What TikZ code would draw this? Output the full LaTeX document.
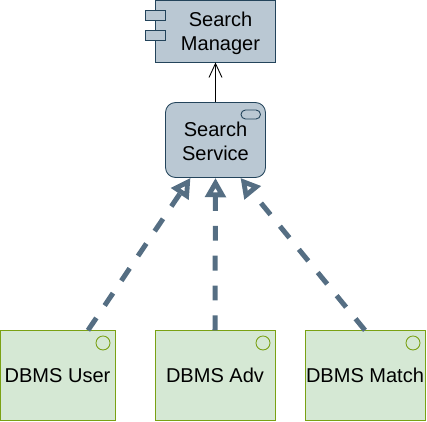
\documentclass[tikz,border=0pt]{standalone}
\usepackage{fontspec}
\setmainfont{Liberation Sans}
\usetikzlibrary{arrows.meta}
\definecolor{slatefill}{RGB}{186,200,211}
\definecolor{slateline}{RGB}{35,68,91}
\definecolor{dashline}{RGB}{85,110,131}
\definecolor{greenfill}{RGB}{213,232,212}
\definecolor{greenline}{RGB}{122,161,20}
\tikzset{
    every node/.style={font=\fontsize{11.4}{13.66}\selectfont, text=black, align=center, inner sep=0pt},
    slatebox/.style={draw=slateline, fill=slatefill, line width=.5pt},
    dbmsbox/.style={draw=greenline, fill=greenfill, line width=.5pt, minimum height=1.79cm},
    realize/.style={draw=dashline, line width=2.85pt, dash pattern=on 8.5pt off 8.5pt, -{Triangle[open, fill=white, length=11pt, width=11.5pt, line width=3.3pt]}}
}
\begin{document}
\begin{tikzpicture}[x=.02cm, y=-.02cm]
    \useasboundingbox (0,0) rectangle (427,422);
    % Search manager
    \node[slatebox, minimum width=2.4cm, minimum height=1.24cm] (manager) at (215.5,31) {\raisebox{-1.1pt}[\height][\depth]{\parbox{2cm}{\centering\hspace*{.2cm}Search\\\hspace*{.2cm}Manager}}};
    \foreach \y in {15,35}
        \draw[slatebox] (145.5,\y-5) rectangle (165.5,\y+5);
    % Search service
    \node[slatebox, rounded corners=.2cm, minimum width=2cm, minimum height=1.5cm] (service) at (215.5,140) {\raisebox{-.6pt}[\height][\depth]{\parbox{1.8cm}{\centering Search\\Service}}};
    \draw[slatebox, rounded corners=.09cm] (241,110) rectangle (260.5,119);
    \draw[-{Straight Barb[length=8pt, width=7.4pt]}, line width=.5pt] (service) -- (manager);
    % DBMS boxes
    \foreach \name/\x/\w/\dx/\txt in {user/57.5/2.3/45.5/DBMS User, adv/215/2.4/48/DBMS Adv, match/365/2.4/48/DBMS Match} {
        \node[dbmsbox, minimum width=\w cm] (\name) at (\x,375.5) {\txt};
        \draw[greenline, line width=.5pt] (\x+\dx,343) circle [radius=7];
    }
    % Realization arrows
    \draw[realize] ([xshift=.61cm]user.north) -- ([xshift=-.5cm]service.south);
    \draw[realize] (adv.north) -- (service.south);
    \draw[realize] (match.north) -- ([xshift=.5cm]service.south);
\end{tikzpicture}
\end{document}
